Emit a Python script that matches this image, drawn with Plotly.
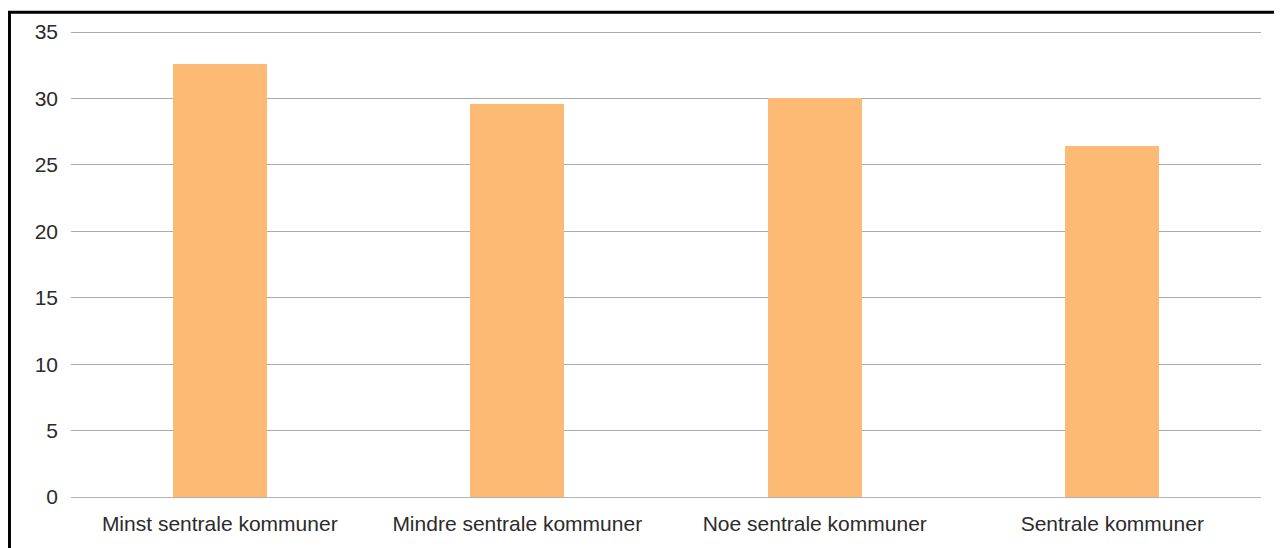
import plotly.graph_objects as go

categories = ["Minst sentrale kommuner", "Mindre sentrale kommuner",
              "Noe sentrale kommuner", "Sentrale kommuner"]
values = [32.6, 29.6, 30.05, 26.4]
y_ticks = [0, 5, 10, 15, 20, 25, 30, 35]

fig = go.Figure(go.Bar(x=categories, y=values, marker_color="#FCBA74",
                       marker_line_width=0, width=0.316))

fig.update_layout(
    width=1282, height=548,
    margin=dict(l=63, r=29, t=20, b=59),
    plot_bgcolor="white", paper_bgcolor="white",
    font=dict(family="Liberation Sans, Arial", size=21, color="#2b2b2b"),
    showlegend=False,
    bargap=0,
    xaxis=dict(showgrid=False, ticks="", showline=False, ticklabelstandoff=12),
    # a touch above 35 so the top grid line is drawn
    yaxis=dict(range=[0, 35.08], tickvals=y_ticks, showgrid=True, gridcolor="#ababab",
               gridwidth=1, zeroline=True, zerolinecolor="#b3b3b3", zerolinewidth=1,
               ticklabelstandoff=12),
    # black frame around the whole chart (left and top edges show)
    shapes=[dict(type="rect", xref="paper", yref="paper", x0=-0.0517, x1=1.1,
                 y0=-0.3, y1=1.04, line=dict(color="black", width=3))],
)

fig.write_html("out.html")
